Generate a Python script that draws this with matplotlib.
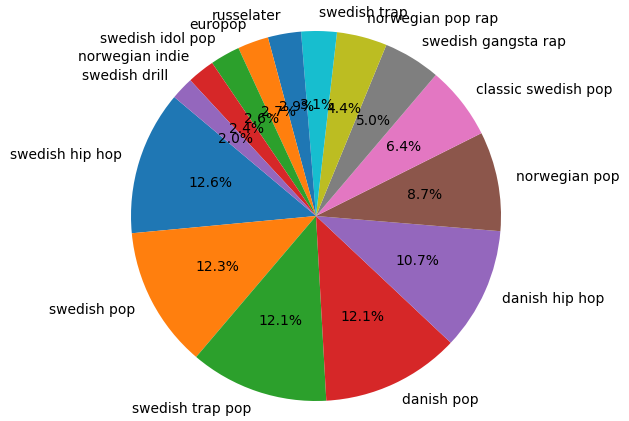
import matplotlib
matplotlib.use("Agg")
import matplotlib.pyplot as plt

genres = ["swedish hip hop", "swedish pop", "swedish trap pop", "danish pop",
          "danish hip hop", "norwegian pop", "classic swedish pop",
          "swedish gangsta rap", "norwegian pop rap", "swedish trap",
          "russelater", "europop", "swedish idol pop", "norwegian indie",
          "swedish drill"]
shares = [12.6, 12.3, 12.1, 12.1, 10.7, 8.7, 6.4, 5.0, 4.4, 3.1, 2.9, 2.7, 2.6, 2.4, 2.0]

fig = plt.figure(figsize=(6.29, 4.21), dpi=100)
ax = fig.add_axes([0, 0, 1, 1])
ax.pie(shares, labels=genres, autopct="%1.1f%%", startangle=140,
       textprops={"fontsize": 10})
r = 185.0
ax.set_xlim(-316 / r, (629 - 316) / r)
ax.set_ylim(-(421 - 216) / r, 216 / r)
ax.set_aspect("auto")
ax.axis("off")
fig.savefig("out.png", dpi=100)
